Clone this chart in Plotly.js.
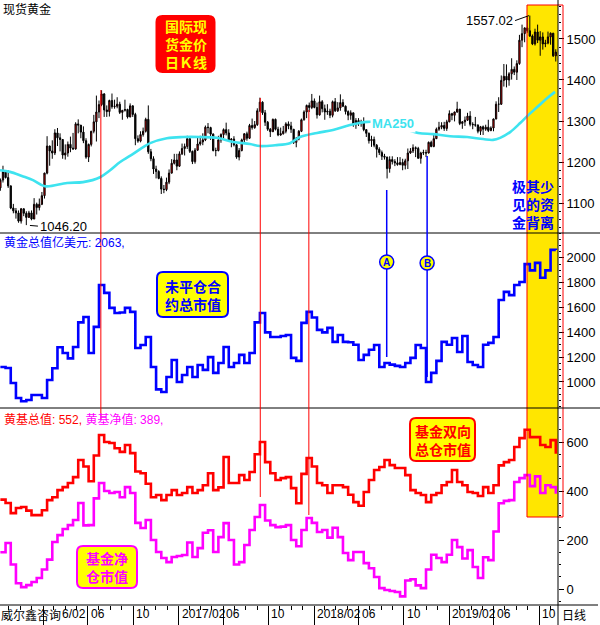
<!DOCTYPE html>
<html><head><meta charset="utf-8">
<script src="https://cdn.plot.ly/plotly-3.0.1.min.js"></script>
<style>html,body{margin:0;padding:0;background:#fff}#chart{width:600px;height:625px}</style>
</head><body><div id="chart"></div>
<script>
// ---------- DATA ----------
// Spot gold, weekly candles (week ending Fridays), first week ending 2015-10-09
const priceStart = '2015-10-09';
const priceOpen = [1137,1156,1176,1162,1142,1088,1081,1076,1056,1086,1075,1065,1076,
1061,1097,1089,1097,1118,1173,1239,1227,1222,1271,1259,1255,1217,1222,1243,1234,1232,1293,1290,1273,1252,1212,1243,1275,1298,1322,1340,1366,1327,1323,1350,1335,1336,1341,1321,1326,1328,1310,1337,1316,1257,1251,1267,1275,1304,1225,1208,1183,1177,1160,1134,1133,
1151,1173,1197,1205,1190,1220,1233,1238,1257,1226,1201,1229,1244,1249,1254,1285,1284,1268,1228,1228,1254,1267,1279,1271,1254,1256,1242,1212,1228,1254,1269,1258,1289,1284,1291,1325,1346,1320,1297,1280,1274,1304,1280,1266,1269,1275,1293,1288,1280,1248,1256,1275,
1303,1322,1338,1333,1349,1333,1315,1347,1330,1322,1324,1314,1347,1325,1332,1345,1336,1323,1314,1320,1291,1301,1294,1298,1279,1270,1252,1255,1241,1231,1223,1214,1212,1184,1206,1201,1198,1194,1199,1192,1203,1222,1227,1235,1233,1209,1222,1223,1222,1248,1238,1257,
1280,1285,1289,1282,1298,1318,1314,1322,1329,1294,1298,1302,1312,1292,1291,1290,1275,1286,1280,1285,1277,1283,1305,1341,1341,1399,1409,1400,1415,1426,1419,1440,1497,1513,1527,1520,1507,1488,1517,1497,1505,1488,1490,1505,1514,1459];
const priceHigh = [1160,1191,1179,1180,1142,1098,1088,1082,1088,1087,1080,1081,1082,
1112,1101,1111,1127,1174,1263,1240,1253,1280,1283,1270,1256,1243,1250,1262,1271,1297,1304,1290,1287,1258,1245,1276,1315,1362,1350,1375,1368,1338,1352,1367,1352,1358,1347,1327,1352,1330,1343,1338,1320,1265,1275,1284,1308,1338,1232,1214,1191,1180,1165,1144,1162,
1182,1207,1220,1220,1226,1245,1245,1264,1263,1228,1234,1261,1264,1270,1289,1295,1286,1270,1235,1264,1270,1282,1296,1280,1258,1263,1244,1234,1257,1270,1274,1293,1306,1300,1331,1357,1348,1327,1300,1283,1306,1306,1286,1284,1288,1297,1299,1298,1280,1261,1278,1306,
1326,1340,1345,1366,1355,1345,1362,1351,1340,1341,1330,1350,1356,1346,1365,1353,1338,1326,1326,1320,1307,1307,1303,1309,1280,1272,1264,1262,1244,1236,1228,1220,1213,1214,1214,1207,1212,1212,1208,1208,1233,1234,1243,1238,1237,1225,1230,1230,1250,1252,1268,1284,
1298,1297,1298,1303,1326,1320,1323,1347,1329,1300,1311,1320,1324,1297,1310,1292,1288,1289,1291,1303,1287,1306,1348,1358,1411,1439,1438,1419,1453,1433,1448,1510,1535,1528,1555,1557.02,1511,1525,1535,1519,1516,1498,1518,1516,1515,1475];
const priceLow = [1130,1150,1160,1137,1085,1075,1062,1052,1050,1068,1046.2,1064,1058,
1061,1072,1082,1095,1111,1170,1191,1208,1217,1239,1226,1208,1206,1213,1224,1230,1230,1270,1258,1246,1208,1200,1238,1270,1250,1307,1336,1310,1310,1311,1330,1330,1331,1317,1303,1323,1306,1309,1310,1241,1247,1248,1262,1272,1220,1202,1171,1160,1158,1122,1124,1129,
1146,1172,1194,1180,1188,1217,1216,1232,1222,1195,1196,1227,1240,1241,1251,1270,1254,1226,1214,1226,1247,1258,1265,1251,1236,1238,1208,1204,1226,1245,1252,1256,1279,1281,1288,1322,1315,1288,1276,1261,1273,1277,1263,1264,1267,1270,1280,1271,1244,1236,1253,1273,
1301,1307,1322,1329,1331,1306,1313,1321,1303,1315,1307,1309,1322,1322,1325,1334,1316,1302,1303,1286,1281,1288,1286,1275,1261,1245,1237,1236,1211,1217,1205,1206,1160,1174,1194,1190,1191,1192,1180,1182,1183,1220,1222,1212,1209,1196,1217,1212,1221,1236,1236,1256,
1276,1280,1276,1276,1297,1302,1299,1320,1290,1281,1288,1300,1287,1280,1286,1270,1266,1266,1276,1273,1275,1275,1304,1322,1339,1384,1382,1386,1401,1412,1400,1437,1480,1492,1515,1505,1485,1484,1490,1459,1474,1480,1487,1486,1456,1445];
const priceClose = [1156,1176,1162,1142,1088,1081,1076,1056,1086,1075,1065,1076,1061,
1097,1089,1097,1118,1173,1239,1227,1222,1271,1259,1255,1217,1222,1243,1234,1232,1293,1290,1273,1252,1212,1243,1275,1298,1322,1340,1366,1327,1323,1350,1335,1336,1341,1321,1326,1328,1310,1337,1316,1257,1251,1267,1275,1304,1225,1208,1183,1177,1160,1134,1133,1151,
1173,1197,1205,1190,1220,1233,1238,1257,1226,1201,1229,1244,1249,1254,1285,1284,1268,1228,1228,1254,1267,1279,1271,1254,1256,1242,1212,1228,1254,1269,1258,1289,1284,1291,1325,1346,1320,1297,1280,1274,1304,1280,1266,1269,1275,1293,1288,1280,1248,1256,1275,1303,
1322,1338,1333,1349,1333,1315,1347,1330,1322,1324,1314,1347,1325,1332,1345,1336,1323,1314,1320,1291,1301,1294,1298,1279,1270,1252,1255,1241,1231,1223,1214,1212,1184,1206,1201,1198,1194,1199,1192,1203,1222,1227,1235,1233,1209,1222,1223,1222,1248,1238,1257,1280,
1285,1289,1282,1298,1318,1314,1322,1329,1294,1298,1302,1312,1292,1291,1290,1275,1286,1280,1285,1277,1283,1305,1341,1341,1399,1409,1400,1415,1426,1419,1440,1497,1513,1527,1520,1507,1488,1517,1497,1505,1488,1490,1505,1514,1459,1468];

// MA250
const maDates = ['2015-10-08','2015-11-04','2015-12-06','2016-01-05','2016-02-06','2016-04-06','2016-05-19','2016-07-04','2016-07-31','2016-08-27','2016-10-01','2016-11-16','2016-12-31','2017-02-13','2017-03-31','2017-05-15','2017-06-28','2017-08-12','2017-09-08','2017-10-19','2017-11-28','2017-12-25','2018-02-09','2018-03-24','2018-05-09','2018-06-24','2018-08-11','2018-09-20','2018-11-09','2018-12-19','2019-02-03','2019-03-21','2019-05-03','2019-05-30','2019-06-18','2019-07-15','2019-08-11','2019-08-30','2019-09-26','2019-10-23','2019-11-13'];
const ma250 = [1180,1176,1166,1156,1141,1149,1151,1163,1180,1200,1220,1246,1258,1261,1261,1259,1249,1244,1239,1241,1246,1261,1271,1278,1290,1298,1295,1285,1271,1268,1263,1261,1256,1254,1259,1273,1295,1312,1334,1356,1371];

// Fortnightly series, first point 2015-10-09
const seriesStart = '2015-10-09';
const goldOI = [1120,1113,992,871,845,855,895,895,871,1016,
1110,1280,1234,1190,1282,1480,1524,1234,1444,1782,
1718,1597,1556,1560,1597,1565,1274,1298,1363,1121,
940,919,1040,1177,1000,1056,1121,1040,1137,1097,
1200,1073,1153,1282,1121,1153,1218,1153,1234,1480,
1556,1400,1363,1363,1370,1379,1194,1170,1476,1565,
1520,1420,1400,1436,1323,1379,1323,1320,1300,1177,
1218,1260,1298,1121,1153,1140,1130,1121,1153,1194,
1298,1274,1000,1073,1170,1323,1300,1355,1242,1370,
1161,1137,1121,1300,1315,1363,1661,1726,1700,1782,
1806,1950,1900,1960,1840,1900,2065,2063];
const fundGross = [365,351,310,331,335,320,302,302,322,363,
375,404,416,433,457,527,500,440,545,629,
600,596,575,560,588,555,480,473,430,375,
384,363,384,404,384,392,416,392,404,424,
473,404,415,539,433,433,465,445,478,550,
600,518,473,445,453,457,412,350,470,535,
500,433,424,392,424,424,416,385,355,340,
396,445,486,498,527,506,494,494,465,404,
392,384,355,384,392,424,437,486,437,424,
396,392,380,416,392,424,505,518,527,580,
616,650,620,620,588,580,608,552];
const fundNet = [150,188,100,24,8,16,29,45,80,120,
192,220,245,261,282,351,260,261,370,433,
400,392,396,375,416,392,270,249,282,200,
151,127,110,131,135,139,190,131,167,230,
240,151,212,269,200,100,110,180,241,294,
343,280,261,253,255,261,200,175,241,290,
270,233,241,210,250,212,147,118,151,151,
106,85,49,4,-4,-8,-12,-30,35,40,
15,4,80,140,127,110,140,200,171,125,
159,90,45,130,118,235,350,360,363,437,
453,465,420,460,392,424,416,389];

const xTickDates = ['2016-02-01','2016-06-01','2016-10-01','2017-02-01','2017-06-01','2017-10-01','2018-02-01','2018-06-01','2018-10-01','2019-02-01','2019-06-01','2019-10-01'];
// first label is partly hidden behind the footer text in the original: only "6/02" shows
const xTickText = ['6/02','06','10','2017/02','06','10','2018/02','06','10','2019/02','06','10'];

// ---------- BUILD ----------
function addDays(iso, n){ const d = new Date(iso + 'T00:00:00Z'); d.setUTCDate(d.getUTCDate() + n); return d.toISOString().slice(0,10); }
const priceDates = priceClose.map((_, i) => addDays(priceStart, 7 * i));
const seriesDates = goldOI.map((_, i) => addDays(seriesStart, 14 * i));

const W = 558, H = 605;
const px = x => x / W;
const py = y => (H - y) / H;
const CJK = 'Noto Sans CJK SC, sans-serif';
const NUM = 'Liberation Sans, Noto Sans CJK SC, sans-serif';

const traces = [
  {type:'scatter', mode:'lines', x:maDates, y:ma250, xaxis:'x', yaxis:'y',
   line:{color:'#3ee3ef', width:2.6, shape:'spline', smoothing:1}, hoverinfo:'skip'},
  {type:'candlestick', x:priceDates, open:priceOpen, high:priceHigh, low:priceLow, close:priceClose,
   xaxis:'x', yaxis:'y', whiskerwidth:0,
   increasing:{line:{color:'#000', width:1}, fillcolor:'#ff0000'},
   decreasing:{line:{color:'#000', width:1}, fillcolor:'#000'}},
  {type:'scatter', mode:'lines', x:seriesDates, y:goldOI, xaxis:'x', yaxis:'y2',
   line:{color:'#0000ff', width:2.6, shape:'hv'}},
  {type:'scatter', mode:'lines', x:seriesDates, y:fundGross, xaxis:'x', yaxis:'y3',
   line:{color:'#ff0000', width:2.6, shape:'hv'}},
  {type:'scatter', mode:'lines', x:seriesDates, y:fundNet, xaxis:'x', yaxis:'y3',
   line:{color:'#ff00ff', width:2.6, shape:'hv'}}
];

function rr(w, h, r){ const a = w/2, b = h/2;
  return `M ${-a+r} ${-b} L ${a-r} ${-b} Q ${a} ${-b} ${a} ${-b+r} L ${a} ${b-r} Q ${a} ${b} ${a-r} ${b} L ${-a+r} ${b} Q ${-a} ${b} ${-a} ${b-r} L ${-a} ${-b+r} Q ${-a} ${-b} ${-a+r} ${-b} Z`; }

const shapes = [];
const annotations = [];

// highlight region
shapes.push({type:'rect', layer:'below', xref:'x', yref:'paper', x0:'2019-08-29', x1:'2019-11-21', y0:py(517), y1:py(5), fillcolor:'#ffe600', line:{width:0}});
shapes.push({type:'rect', layer:'above', xref:'paper', yref:'paper', x0:px(527), x1:px(563), y0:py(517), y1:py(5), line:{color:'#ff0000', width:1}});

// frame lines
const blackLine = {color:'#000', width:1};
shapes.push({type:'line', xref:'paper', yref:'paper', x0:0, x1:600/W, y0:py(233), y1:py(233), line:blackLine});
shapes.push({type:'line', xref:'paper', yref:'paper', x0:0, x1:600/W, y0:py(408), y1:py(408), line:blackLine});
shapes.push({type:'line', xref:'paper', yref:'paper', x0:0, x1:598/W, y0:0, y1:0, line:blackLine});
shapes.push({type:'line', xref:'paper', yref:'paper', x0:1, x1:1, y0:py(625), y1:1, line:blackLine});

// vertical marker lines
function vline(date, yTop, yBot, color, w){ shapes.push({type:'line', xref:'x', yref:'paper', x0:date, x1:date, y0:py(yBot), y1:py(yTop), line:{color:color, width:w}}); }
vline('2016-07-06', 90, 420, '#ff0000', 1);
vline('2017-09-09', 98, 497, '#ff0000', 1);
vline('2018-01-18', 110, 515, '#ff0000', 1);
vline('2018-08-16', 190, 357, '#0000ff', 1.5);
vline('2018-12-03', 156, 377, '#0000ff', 1.5);

// A / B markers
function marker(date, cy, label){
  shapes.push({type:'circle', xref:'x', yref:'paper', xsizemode:'pixel', ysizemode:'pixel', xanchor:date, yanchor:py(cy), x0:-7, x1:7, y0:-7, y1:7, fillcolor:'#ffff00', line:{color:'#0000ff', width:1.5}});
  annotations.push({xref:'x', yref:'paper', x:date, y:py(cy), text:'<b>'+label+'</b>', showarrow:false, font:{family:NUM, size:10, color:'#0000ff'}, xanchor:'center', yanchor:'middle'});
}
marker('2018-08-16', 262, 'A');
marker('2018-12-03', 263, 'B');

// labelled boxes (one multi-line text each)
function box(cx, cy, w, h, fill, border, lines, color, size){
  shapes.push({type:'path', layer:'above', xref:'paper', yref:'paper', xsizemode:'pixel', ysizemode:'pixel', xanchor:px(cx), yanchor:py(cy), path:rr(w, h, 6), fillcolor:fill, line:{color:border, width:2}});
  annotations.push({xref:'paper', yref:'paper', x:px(cx), y:py(cy), text:'<b>'+lines.join('<br>')+'</b>', showarrow:false, xanchor:'center', yanchor:'middle', align:'center', borderpad:0, font:{family:CJK, size:size, color:color}});
}
box(185.5, 44, 58, 56, '#ff0000', '#ff0000', ['国际现','货金价','日Ｋ线'], '#ffff00', 14);
box(192.5, 294.5, 71, 45, '#ffff00', '#0000ff', ['未平仓合','约总市值'], '#0000ff', 14);
box(442.5, 439.5, 65, 43, '#ffff00', '#ff0000', ['基金双向','总仓市值'], '#ff0000', 14);
box(107, 567, 60, 42, '#ffff00', '#ff00ff', ['基金净','仓市值'], '#ff00ff', 14);

annotations.push({xref:'paper', yref:'paper', x:px(533), y:py(204), text:'<b>极其少<br>见的资<br>金背离</b>', showarrow:false, xanchor:'center', yanchor:'middle', align:'center', borderpad:0, font:{family:CJK, size:14, color:'#0000ff'}});

// panel titles
annotations.push({xref:'paper', yref:'paper', x:0, y:py(9), xanchor:'left', yanchor:'middle', showarrow:false, xshift:1, text:'现货黄金', font:{family:CJK, size:12, color:'#000'}});
annotations.push({xref:'paper', yref:'paper', x:0, y:py(242), xanchor:'left', yanchor:'middle', showarrow:false, xshift:2, text:'黄金总值亿美元: 2063,', font:{family:NUM, size:12, color:'#0000ff'}});
annotations.push({xref:'paper', yref:'paper', x:0, y:py(419), xanchor:'left', yanchor:'middle', showarrow:false, xshift:2,
  text:'<span style="color:#ff0000">黄基总值: 552,</span> <span style="color:#ff00ff">黄基净值: 389,</span>', font:{family:NUM, size:12, color:'#ff0000'}});

// price labels
annotations.push({xref:'x', yref:'y', x:'2015-12-17', y:1046.2, text:'1046.20', showarrow:true, arrowhead:0, arrowwidth:1, arrowcolor:'#000', ax:12, ay:1, xanchor:'left', yanchor:'middle', standoff:4, font:{family:NUM, size:13, color:'#000'}});
annotations.push({xref:'x', yref:'y', x:'2019-09-04', y:1557.02, text:'1557.02', showarrow:true, arrowhead:0, arrowwidth:1, arrowcolor:'#000', ax:-14, ay:5, xanchor:'right', yanchor:'middle', font:{family:NUM, size:13, color:'#000'}});
annotations.push({xref:'x', yref:'y', x:'2018-09-02', y:1295, text:'<b>MA250</b>', showarrow:false, bgcolor:'#fff', borderpad:1, font:{family:NUM, size:13, color:'#3ee3ef'}});

// x-axis labels (left aligned at ticks; first one right-aligned to the next tick)
xTickDates.forEach((d, i) => {
  if (i === 0) {
    annotations.push({xref:'x', yref:'paper', x:xTickDates[1], y:py(614), xanchor:'right', yanchor:'middle', xshift:0, showarrow:false, text:xTickText[0], font:{family:NUM, size:12, color:'#000'}});
  } else {
    annotations.push({xref:'x', yref:'paper', x:d, y:py(614), xanchor:'left', yanchor:'middle', xshift:1, showarrow:false, text:xTickText[i], font:{family:NUM, size:12, color:'#000'}});
  }
});
annotations.push({xref:'paper', yref:'paper', x:0, y:py(614), xanchor:'left', yanchor:'middle', showarrow:false, borderpad:0, text:'威尔鑫咨询', font:{family:CJK, size:12, color:'#000'}});
annotations.push({xref:'paper', yref:'paper', x:1, y:py(614), xanchor:'left', yanchor:'middle', xshift:2, showarrow:false, text:'日线', font:{family:CJK, size:12, color:'#000'}});

const axisFont = {family:'Liberation Sans, Arial, sans-serif', size:13, color:'#000'};
function yax(domain, range, vals, minorStep){
  return {domain:domain, range:range, side:'right', anchor:'x', showgrid:false, zeroline:false, showline:false,
    ticks:'outside', ticklen:5, tickwidth:1, tickcolor:'#000', tickmode:'array', tickvals:vals, tickfont:axisFont,
    minor:{ticks:'outside', ticklen:2, tickcolor:'#000', tickmode:'linear', tick0:0, dtick:minorStep, showgrid:false},
    fixedrange:true};
}

const layout = {
  width:600, height:625, margin:{l:0, r:42, t:0, b:20},
  paper_bgcolor:'#fff', plot_bgcolor:'rgba(0,0,0,0)', showlegend:false,
  xaxis:{type:'date', range:['2015-10-08','2019-11-21'], anchor:'y3', showgrid:false, zeroline:false, showline:false,
    showticklabels:false, ticks:'outside', ticklen:20, tickwidth:1, tickcolor:'#000', tickmode:'array', tickvals:xTickDates,
    minor:{ticks:'outside', ticklen:4, tickcolor:'#000', tickmode:'linear', tick0:'2015-11-01', dtick:'M1', showgrid:false},
    rangeslider:{visible:false}, fixedrange:true},
  yaxis: yax([py(233), 1], [1027, 1595], [1100,1200,1300,1400,1500], 20),
  yaxis2: yax([py(408), py(233)], [790, 2201], [1000,1200,1400,1600,1800,2000], 50),
  yaxis3: yax([0, py(408)], [-65, 739], [0,200,400,600], 50),
  shapes: shapes, annotations: annotations
};

Plotly.newPlot('chart', traces, layout, {staticPlot:true, displayModeBar:false});
</script></body></html>
